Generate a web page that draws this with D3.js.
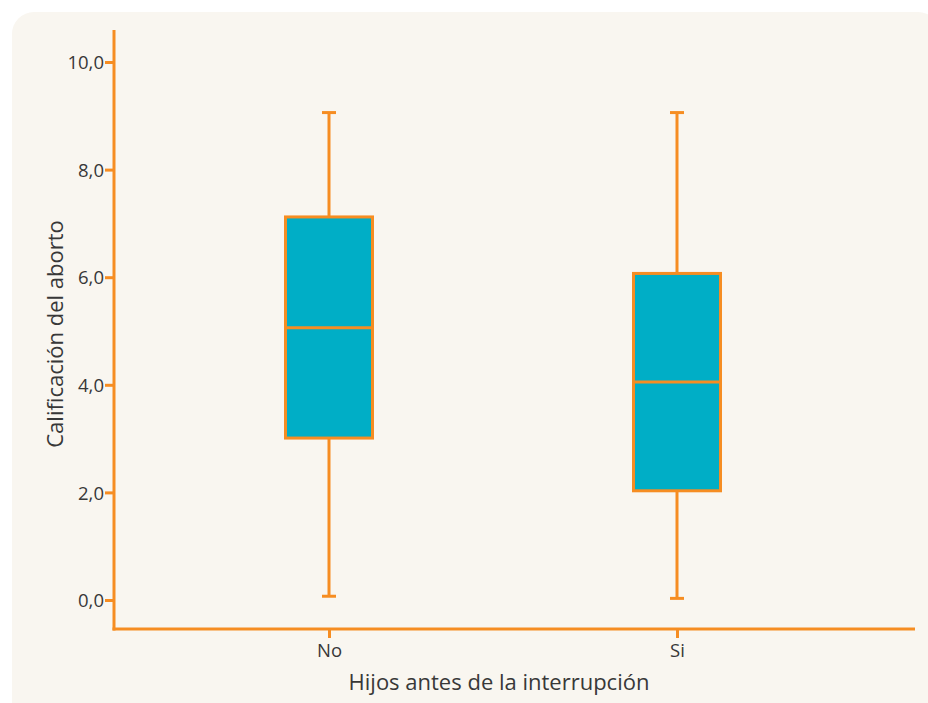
<!DOCTYPE html>
<html>
<head>
<meta charset="utf-8">
<script src="https://cdn.jsdelivr.net/npm/d3@7"></script>
<style>
  html, body { margin: 0; padding: 0; background: #ffffff; }
  svg { display: block; }
  text { font-family: "Open Sans", "Noto Sans", sans-serif; fill: #383838; }
</style>
</head>
<body>
<script>
// ---- Data ----
const categories = ["No", "Si"];
const whiskerLow = [0.07, 0.03];
const q1 = [3.01, 2.03];
const median = [5.06, 4.05];
const q3 = [7.12, 6.07];
const whiskerHigh = [9.06, 9.06];
const yTickValues = [0, 2, 4, 6, 8, 10];
const yTickLabels = ["0,0", "2,0", "4,0", "6,0", "8,0", "10,0"];
const xTitle = "Hijos antes de la interrupción";
const yTitle = "Calificación del aborto";

// ---- Layout ----
const W = 928, H = 703;
const orange = "#f68d22";
const teal = "#00aec6";
const bg = "#f9f6f0";
const font = '"Open Sans", "Noto Sans", sans-serif';
const axisLeftX = 114, axisTopY = 30, axisBottomY = 629, axisRightX = 915;

const svg = d3.select("body").append("svg").attr("width", W).attr("height", H);

svg.append("rect").attr("x", 12).attr("y", 12).attr("width", W).attr("height", H + 40)
  .attr("rx", 22).attr("fill", bg);

const y = d3.scaleLinear().domain([0, 10]).range([600, 62]);
const x = d3.scalePoint().domain(categories).range([329, 677]);
const boxW = 87;
const capW = 14;

// Y axis
const yAxis = svg.append("g").attr("transform", `translate(${axisLeftX},0)`)
  .call(d3.axisLeft(y).tickValues(yTickValues).tickSize(9).tickSizeOuter(0)
    .tickFormat((d, i) => yTickLabels[i]));
yAxis.select(".domain").remove();
yAxis.attr("font-size", null).attr("font-family", null);
yAxis.selectAll(".tick line").attr("stroke", orange).attr("stroke-width", 3);
yAxis.selectAll(".tick text").attr("x", -10).attr("dy", "0.36em")
  .attr("fill", "#383838").style("font-size", "18.5px").style("font-family", font);

svg.append("line").attr("x1", axisLeftX).attr("x2", axisLeftX)
  .attr("y1", axisTopY).attr("y2", axisBottomY + 1.5)
  .attr("stroke", orange).attr("stroke-width", 3);

// X axis
const xAxis = svg.append("g").attr("transform", `translate(0,${axisBottomY})`)
  .call(d3.axisBottom(x).tickSize(9).tickSizeOuter(0));
xAxis.select(".domain").remove();
xAxis.attr("font-size", null).attr("font-family", null);
xAxis.selectAll(".tick line").attr("stroke", orange).attr("stroke-width", 3);
xAxis.selectAll(".tick text").attr("y", 28).attr("dy", 0)
  .attr("fill", "#383838").style("font-size", "18.5px").style("font-family", font);
svg.append("line").attr("x1", axisLeftX - 1.5).attr("x2", axisRightX)
  .attr("y1", axisBottomY).attr("y2", axisBottomY)
  .attr("stroke", orange).attr("stroke-width", 3);

// Titles
svg.append("text").attr("x", 499).attr("y", 690).attr("text-anchor", "middle")
  .style("font-size", "22px").text(xTitle);
svg.append("text").attr("transform", `translate(63,334) rotate(-90)`)
  .attr("text-anchor", "middle").style("font-size", "22px").text(yTitle);

// Boxes
const g = svg.append("g");
categories.forEach((c, i) => {
  const cx = x(c);
  g.append("line").attr("x1", cx).attr("x2", cx).attr("y1", y(whiskerHigh[i])).attr("y2", y(q3[i]))
    .attr("stroke", orange).attr("stroke-width", 3);
  g.append("line").attr("x1", cx).attr("x2", cx).attr("y1", y(q1[i])).attr("y2", y(whiskerLow[i]))
    .attr("stroke", orange).attr("stroke-width", 3);
  [whiskerHigh[i], whiskerLow[i]].forEach(v => {
    g.append("line").attr("x1", cx - capW / 2).attr("x2", cx + capW / 2)
      .attr("y1", y(v)).attr("y2", y(v)).attr("stroke", orange).attr("stroke-width", 3);
  });
  g.append("rect").attr("x", cx - boxW / 2).attr("width", boxW)
    .attr("y", y(q3[i])).attr("height", y(q1[i]) - y(q3[i]))
    .attr("fill", teal).attr("stroke", orange).attr("stroke-width", 3);
  g.append("line").attr("x1", cx - boxW / 2).attr("x2", cx + boxW / 2)
    .attr("y1", y(median[i])).attr("y2", y(median[i]))
    .attr("stroke", orange).attr("stroke-width", 3);
});
</script>
</body>
</html>
